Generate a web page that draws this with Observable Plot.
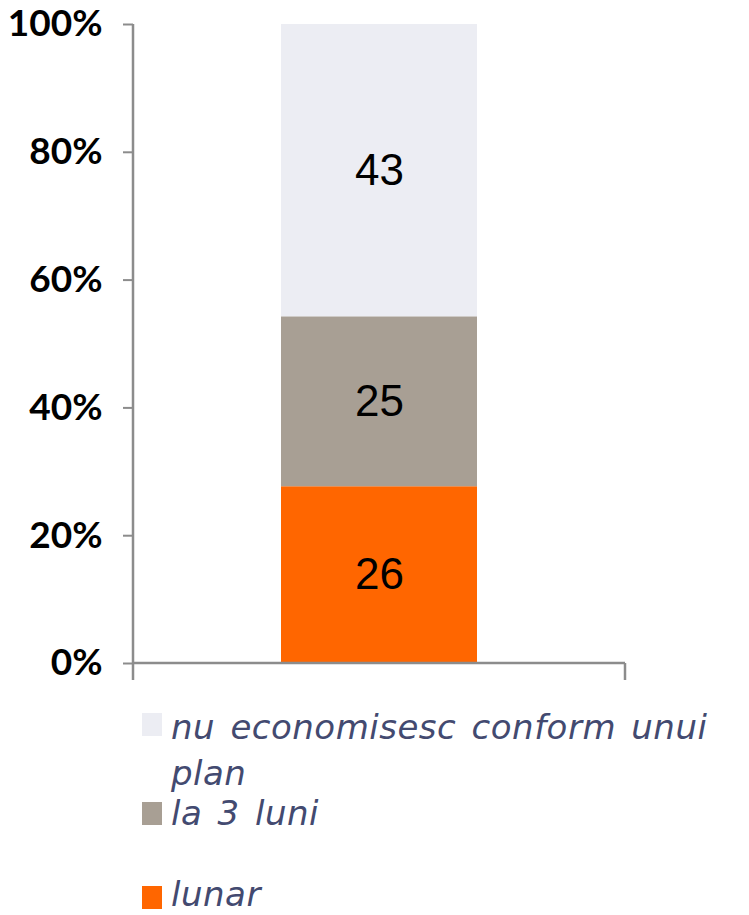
<!DOCTYPE html>
<html>
<head>
<meta charset="utf-8">
<script src="https://cdn.jsdelivr.net/npm/d3@7"></script>
<script src="https://cdn.jsdelivr.net/npm/@observablehq/plot@0.6"></script>
<style>
  html, body { margin: 0; padding: 0; background: #fff; }
  #wrap { position: relative; width: 749px; height: 915px; overflow: hidden; }
  .sw { position: absolute; left: 142px; width: 20px; height: 23px; }
  .tx { position: absolute; left: 171px; width: 578px; font-family: "DejaVu Sans", sans-serif; font-style: italic;
        font-size: 34px; letter-spacing: 0.5px; word-spacing: 4px; color: #434A70; white-space: normal; }
</style>
</head>
<body>
<div id="wrap"></div>
<script>
const categories = ["lunar", "la 3 luni", "nu economisesc conform unui plan"];
const values = [26, 25, 43];
const colors = ["#FF6600", "#A89F94", "#ECEDF3"];
const yTicks = [0, 0.2, 0.4, 0.6, 0.8, 1];
const yTickLabels = ["0%", "20%", "40%", "60%", "80%", "100%"];
const group = "total";

const data = categories.map((c, i) => ({series: c, value: values[i], group}));

const chart = Plot.plot({
  width: 749,
  height: 690,
  marginTop: 24,
  marginLeft: 133,
  marginRight: 124,
  marginBottom: 27,
  x: {domain: [group], padding: 0.43, axis: null},
  y: {domain: [0, 1], axis: null},
  color: {domain: categories, range: colors},
  marks: [
    Plot.barY(data, Plot.stackY({offset: "normalize", x: "group", y: "value", fill: "series"})),
    Plot.text(data, Plot.stackY({offset: "normalize", x: "group", y: "value", text: "value",
      fill: "#000", fontSize: 44, fontFamily: "Liberation Sans, Arial, sans-serif"})),
    Plot.axisY({ticks: yTicks, tickFormat: (d, i) => yTickLabels[i], tickSize: 10, tickPadding: 21,
      label: null, stroke: "#8C8C8C", strokeWidth: 2, fill: "#000", fontSize: 37, fontWeight: "bold",
      fontFamily: "Lato, sans-serif"})
  ]
});

// axis lines drawn from the scales
const sx = chart.scale("x"), sy = chart.scale("y");
const x0 = sx.range[0], x1 = sx.range[1];
const yTop = sy.apply(1), yBot = sy.apply(0);
const svg = d3.select(chart).style("overflow", "visible");
const g = svg.append("g").attr("stroke", "#8C8C8C").attr("stroke-width", 2.5).attr("fill", "none");
g.append("line").attr("x1", x0).attr("x2", x0).attr("y1", yTop).attr("y2", yBot + 17);
g.append("line").attr("x1", x0).attr("x2", x1).attr("y1", yBot).attr("y2", yBot);
g.append("line").attr("x1", x1).attr("x2", x1).attr("y1", yBot).attr("y2", yBot + 17);

const wrap = document.getElementById("wrap");
wrap.appendChild(chart);

// legend (top to bottom as in the reference)
const legendItems = [
  {label: categories[2], color: colors[2], textTop: 704, lh: 46, swTop: 713},
  {label: categories[1], color: colors[1], textTop: 798, lh: 30, swTop: 802},
  {label: categories[0], color: colors[0], textTop: 879, lh: 30, swTop: 886}
];
for (const it of legendItems) {
  const sw = document.createElement("div");
  sw.className = "sw";
  sw.style.top = it.swTop + "px";
  sw.style.background = it.color;
  wrap.appendChild(sw);
  const tx = document.createElement("div");
  tx.className = "tx";
  tx.style.top = it.textTop + "px";
  tx.style.lineHeight = it.lh + "px";
  tx.textContent = it.label;
  wrap.appendChild(tx);
}
</script>
</body>
</html>
